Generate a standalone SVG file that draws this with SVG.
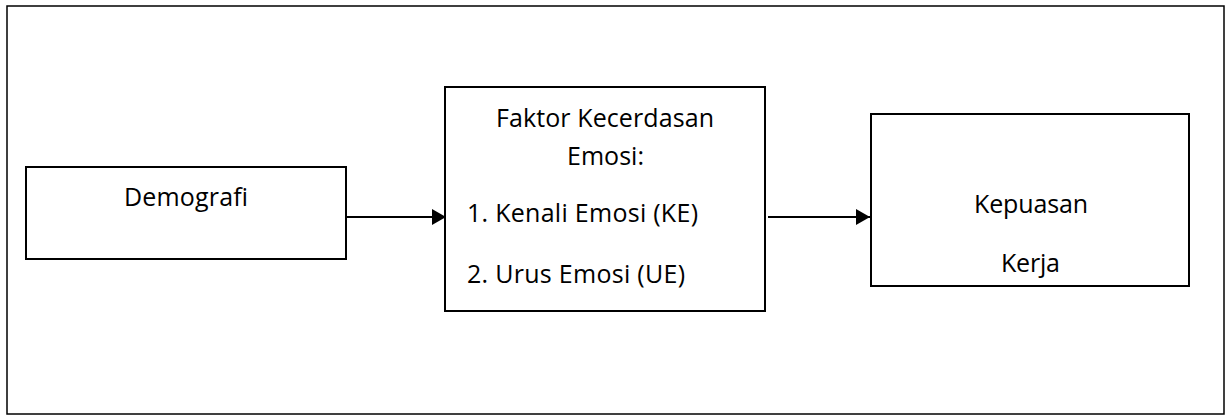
<svg xmlns="http://www.w3.org/2000/svg" width="1232" height="415" viewBox="0 0 1232 415">
  <defs>
    <style>
      .frame { fill: #ffffff; stroke: #000000; stroke-width: 1.5; }
      .box { fill: #ffffff; stroke: #000000; stroke-width: 2; }
      .label { font-family: "Open Sans", "Noto Sans", "Liberation Sans", sans-serif; font-size: 25px; fill: #000000; }
      .mid { text-anchor: middle; }
      .link { stroke: #000000; stroke-width: 2; fill: none; marker-end: url(#arrow); }
    </style>
    <marker id="arrow" viewBox="0 0 14 16" refX="14" refY="8" markerWidth="14" markerHeight="16" markerUnits="userSpaceOnUse" orient="auto">
      <path d="M0,0 L14,8 L0,16 Z" fill="#000000"/>
    </marker>
  </defs>

  <rect width="1232" height="415" fill="#ffffff"/>
  <!-- outer frame -->
  <rect class="frame" x="7" y="6" width="1217" height="408"/>

  <!-- connectors -->
  <g id="connectors">
    <line class="link" x1="346" y1="217" x2="446" y2="217"/>
    <line class="link" x1="768" y1="217" x2="870" y2="217"/>
  </g>

  <g id="node-demografi">
    <rect class="box" x="26" y="167" width="320" height="92"/>
    <text class="label mid" x="186" y="205.5" textLength="124">Demografi</text>
  </g>

  <g id="node-kecerdasan-emosi">
    <rect class="box" x="445" y="87" width="320" height="224"/>
    <text class="label mid" x="605" y="127" textLength="218">Faktor Kecerdasan</text>
    <text class="label mid" x="605.5" y="165" textLength="77">Emosi:</text>
    <text class="label" x="467" y="222" textLength="231">1. Kenali Emosi (KE)</text>
    <text class="label" x="467" y="283" textLength="218">2. Urus Emosi (UE)</text>
  </g>

  <g id="node-kepuasan-kerja">
    <rect class="box" x="871" y="114" width="318" height="172"/>
    <text class="label mid" x="1031" y="212.5" textLength="114">Kepuasan</text>
    <text class="label mid" x="1030.5" y="271.5" textLength="59">Kerja</text>
  </g>
</svg>
